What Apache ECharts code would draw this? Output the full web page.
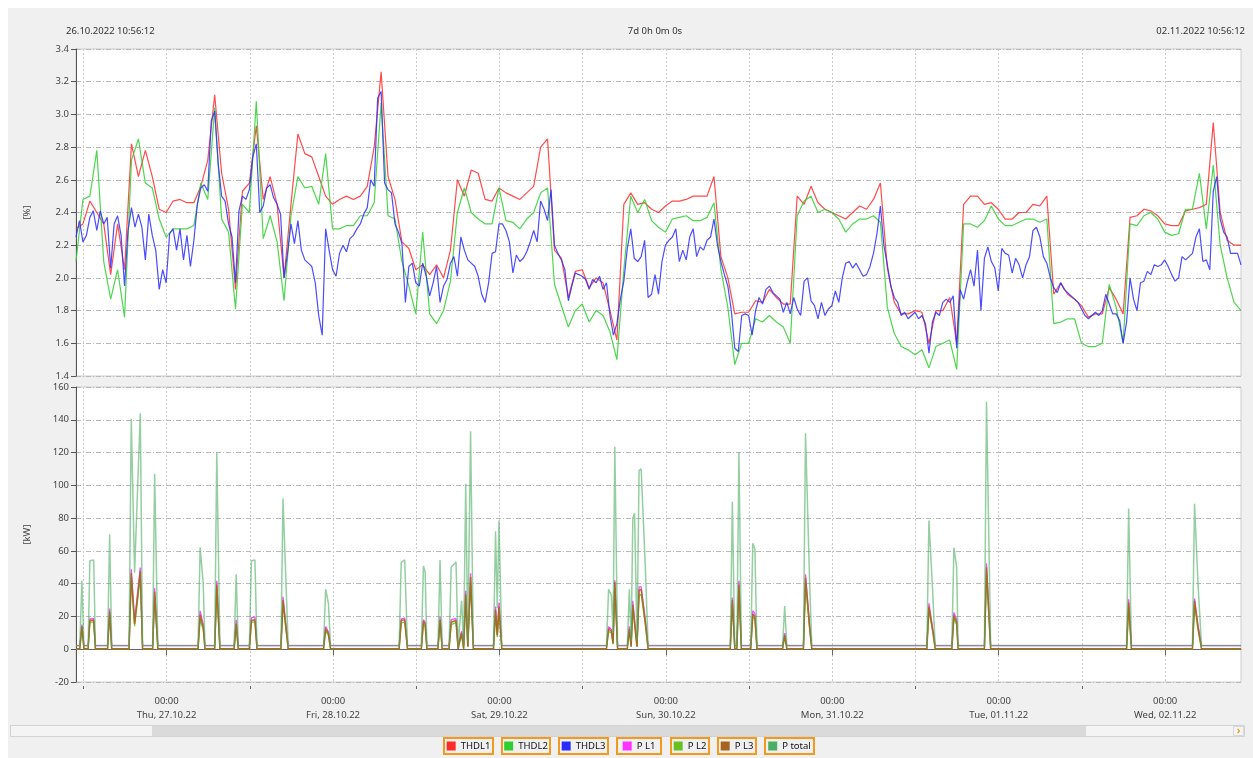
<!DOCTYPE html>
<html><head><meta charset="utf-8">
<script src="https://cdn.jsdelivr.net/npm/echarts@6/dist/echarts.min.js"></script>
<style>html,body{margin:0;padding:0;background:#fff;}#c{width:1253px;height:758px;}</style>
</head><body><div id="c"></div>
<script>
// ---------- texts ----------
const startLabel = '26.10.2022 10:56:12';
const spanLabel = '7d 0h 0m 0s';
const endLabel = '02.11.2022 10:56:12';
const dayLabels = ['Thu, 27.10.22','Fri, 28.10.22','Sat, 29.10.22','Sun, 30.10.22','Mon, 31.10.22','Tue, 01.11.22','Wed, 02.11.22'];
const legendNames = ['THDL1','THDL2','THDL3','P L1','P L2','P L3','P total'];

// ---------- THD series [%] ----------
// THDL1 / THDL2: hourly samples from 26.10.2022 10:56:12 (hour 0..168)
const thdl1 = [2.30,2.33,2.47,2.40,2.33,2.02,2.33,2.05,2.82,2.62,2.78,2.62,2.42,2.40,2.47,2.48,2.46,2.46,2.56,2.72,
3.12,2.64,2.42,1.93,2.53,2.58,2.93,2.48,2.62,2.45,2.00,2.45,2.88,2.76,2.74,2.62,2.50,2.45,2.48,2.50,
2.48,2.50,2.56,2.80,3.26,2.62,2.48,2.22,2.18,2.05,2.08,2.02,2.08,2.00,2.17,2.60,2.50,2.66,2.64,2.48,
2.47,2.55,2.52,2.50,2.48,2.52,2.56,2.80,2.85,2.17,2.12,1.88,2.04,2.05,1.94,2.00,1.97,1.80,1.62,2.45,
2.52,2.45,2.46,2.42,2.40,2.44,2.47,2.47,2.48,2.50,2.50,2.50,2.62,2.13,2.00,1.78,1.79,1.79,1.86,1.85,
1.93,1.88,1.84,1.84,2.50,2.45,2.56,2.46,2.42,2.40,2.38,2.36,2.40,2.44,2.42,2.48,2.58,2.06,1.85,1.78,
1.78,1.80,1.79,1.60,1.80,1.80,1.88,1.60,2.45,2.50,2.50,2.45,2.46,2.42,2.36,2.36,2.40,2.40,2.45,2.44,
2.50,1.90,1.97,1.90,1.87,1.83,1.76,1.78,1.78,1.94,1.87,1.78,2.37,2.38,2.42,2.41,2.38,2.33,2.32,2.32,
2.41,2.42,2.43,2.45,2.95,2.40,2.23,2.20,2.20];
const thdl2 = [2.10,2.48,2.50,2.78,2.10,1.87,2.05,1.76,2.72,2.85,2.58,2.55,2.36,2.25,2.30,2.30,2.30,2.32,2.58,2.48,
3.04,2.36,2.28,1.81,2.45,2.40,3.08,2.24,2.38,2.22,1.86,2.38,2.62,2.55,2.56,2.45,2.76,2.30,2.30,2.32,
2.32,2.38,2.38,2.46,3.07,2.38,2.36,2.10,1.95,1.78,2.28,1.78,1.72,1.80,1.98,2.40,2.55,2.40,2.36,2.33,
2.33,2.55,2.35,2.34,2.30,2.36,2.40,2.52,2.55,1.96,1.83,1.70,1.80,1.84,1.73,1.80,1.77,1.67,1.50,2.05,
2.50,2.40,2.48,2.35,2.31,2.28,2.36,2.37,2.38,2.35,2.35,2.37,2.46,2.05,1.82,1.47,1.60,1.60,1.75,1.73,
1.77,1.73,1.70,1.60,2.38,2.47,2.50,2.40,2.42,2.40,2.36,2.28,2.33,2.36,2.36,2.38,2.34,1.82,1.66,1.58,
1.56,1.53,1.56,1.45,1.58,1.60,1.62,1.44,2.33,2.33,2.31,2.35,2.44,2.36,2.32,2.32,2.34,2.36,2.36,2.34,
2.36,1.72,1.73,1.75,1.75,1.60,1.58,1.58,1.60,1.96,1.82,1.60,2.33,2.32,2.38,2.40,2.36,2.28,2.26,2.27,
2.42,2.42,2.64,2.30,2.69,2.20,2.00,1.85,1.80];
// THDL3: half-hourly samples from 26.10.2022 10:56:12 (half-hour 0..336)
const thdl3 = [2.25,2.35,2.22,2.26,2.37,2.41,2.29,2.41,2.33,2.37,2.06,2.33,2.38,2.26,1.95,2.29,2.43,2.31,2.39,2.31,
2.11,2.39,2.26,2.17,1.93,2.05,1.97,2.27,2.30,2.17,2.30,2.11,2.26,2.07,2.23,2.45,2.55,2.57,2.53,2.96,
3.02,2.70,2.50,2.47,2.33,2.25,1.97,2.41,2.50,2.48,2.54,2.74,2.82,2.40,2.44,2.55,2.57,2.49,2.45,2.39,
2.00,2.15,2.33,2.21,2.35,2.17,2.11,2.09,2.07,1.97,1.77,1.65,2.30,2.17,2.05,2.01,2.15,2.20,2.16,2.24,
2.26,2.30,2.33,2.39,2.43,2.60,2.56,3.10,3.14,2.58,2.54,2.52,2.33,2.28,2.21,1.85,2.07,2.09,1.97,1.95,
2.09,2.01,1.89,1.97,2.07,1.85,1.95,1.99,2.09,2.13,2.01,2.25,2.17,2.11,2.09,2.07,2.01,1.90,1.85,1.97,
2.15,2.16,2.33,2.33,2.29,2.22,2.03,2.14,2.10,2.12,2.16,2.22,2.29,2.22,2.47,2.42,2.35,2.54,2.20,2.15,
2.11,2.05,1.86,1.95,2.03,2.02,2.01,1.99,1.93,1.99,1.97,2.01,1.93,1.97,1.77,1.65,1.72,1.87,1.98,2.18,
2.30,2.12,2.10,2.13,2.23,1.88,1.90,2.02,1.90,2.10,2.20,2.23,2.25,2.30,2.10,2.17,2.11,2.25,2.30,2.13,
2.19,2.17,2.23,2.25,2.36,2.20,2.10,2.02,1.95,1.80,1.57,1.55,1.77,1.78,1.77,1.65,1.80,1.88,1.84,1.93,
1.95,1.91,1.89,1.87,1.79,1.85,1.78,1.88,1.81,1.77,1.98,2.00,1.86,1.83,1.75,1.85,1.77,1.81,1.83,1.92,
1.85,2.00,2.09,2.10,2.06,2.09,2.05,2.01,2.02,2.07,2.15,2.27,2.44,2.20,2.08,1.95,1.88,1.85,1.77,1.79,
1.75,1.77,1.79,1.75,1.77,1.72,1.54,1.73,1.79,1.77,1.85,1.87,1.85,1.89,1.57,1.93,1.87,1.97,2.05,1.95,
2.17,1.80,2.12,2.19,2.10,2.06,1.92,2.18,2.15,2.14,2.03,2.12,2.08,2.00,2.08,2.13,2.29,2.31,2.25,2.13,
2.09,2.00,1.94,1.91,1.97,1.93,1.91,1.89,1.87,1.85,1.81,1.77,1.75,1.77,1.79,1.77,1.80,1.90,1.84,1.78,
1.78,1.74,1.60,1.73,2.00,1.87,1.80,1.97,1.98,2.04,2.02,2.08,2.07,2.08,2.11,2.07,2.02,1.98,2.00,2.13,
2.11,2.13,2.15,2.25,2.30,2.10,2.11,2.05,2.53,2.62,2.36,2.28,2.25,2.15,2.15,2.15,2.08];

// ---------- power series: sample times (hours from start) and values [kW] ----------
const pTimes = [0,0.55, 0.85,1.15, 1.75,2.0,2.55,2.8, 4.55,4.85,5.15, 7.65,7.97,8.45,9.27,9.6, 11.05,11.34,11.8,
17.6,17.9,18.35,18.6, 20.0,20.3,20.75, 22.8,23.1,23.4, 25.0,25.3,25.8,26.1, 29.55,29.85,30.6, 35.7,36.0,36.4,36.7,
46.6,46.9,47.4,47.8, 49.8,50.1,50.35,50.6, 52.2,52.5,52.8, 53.8,54.1,54.8,55.1, 55.6,55.9, 56.2,56.5,56.9,57.3,
60.2,60.5,60.75,61.0,61.4, 76.5,76.8,77.2,77.45,77.7,78.1, 79.5,79.8,80.05,80.3,80.55,80.9,81.2,81.5,82.1,82.5,
94.35,94.65,95.0, 95.3,95.6,95.95, 97.3,97.6,97.9,98.2, 101.9,102.2,102.5, 104.9,105.2,105.8,106.1,
122.7,123.0,123.6,123.9, 126.3,126.6,127.0,127.2, 131.0,131.3,131.9, 151.5,151.8,152.2, 161.0,161.3,161.8,162.3, 168];
const pTotal = [2.2,2.2, 41.7,2.2, 2.2,54,54.5,2.2, 2.2,70,2.2, 2.2,140.6,46.7,144,2.2, 2.2,107,2.2,
2.2,62,40,2.2, 2.2,120,2.2, 2.2,45.7,2.2, 2.2,54,54.5,2.2, 2.2,92,2.2, 2.2,36.6,28,2.2,
2.2,53,54.5,2.2, 2.2,50.8,47,2.2, 2.2,54.5,2.2, 2.2,50,53.2,2.2, 29.5,2.2, 101,5,133,2.2,
2.2,72,25,78.6,2.2, 2.2,36.6,33,10,123.6,2.2, 2.2,36.6,5,80,83,5,109,110,50,2.2,
2.2,90,2.2, 2.2,120,2.2, 2.2,64.6,61,2.2, 2.2,26.4,2.2, 2.2,131.7,40,2.2,
2.2,78.6,30,2.2, 2.2,62,50,2.2, 2.2,151,2.2, 2.2,85.8,2.2, 2.2,88.8,40,2.2, 2.2];
const pL1 = [2.2,2.2, 15,2.2, 2.2,18.5,18.7,2.2, 2.2,24.8,2.2, 2.2,48.8,17,49.8,2.2, 2.2,37.2,2.2,
2.2,23.4,15,2.2, 2.2,41.7,2.2, 2.2,17.9,2.2, 2.2,19.2,19.7,2.2, 2.2,32,2.2, 2.2,13.8,10.5,2.2,
2.2,18.5,19,2.2, 2.2,18,16.5,2.2, 2.2,19.7,2.2, 2.2,18,18.7,2.2, 11,2.2, 35.6,2,46.3,2.2,
2.2,26,9,28.5,2.2, 2.2,13.8,12,4,42,2.2, 2.2,14,2,29.5,29.5,2,38,38,18,2.2,
2.2,31.5,2.2, 2.2,41.7,2.2, 2.2,23.4,22,2.2, 2.2,9.8,2.2, 2.2,45.7,14.5,2.2,
2.2,28,11,2.2, 2.2,22.4,18,2.2, 2.2,52.4,2.2, 2.2,30.5,2.2, 2.2,30.9,14.5,2.2, 2.2];
const pL2 = [0.2,0.2, 13,0.2, 0.2,16.5,16.7,0.2, 0.2,21,0.2, 0.2,43,14,44,0.2, 0.2,32,0.2,
0.2,18,12,0.2, 0.2,36,0.2, 0.2,13.5,0.2, 0.2,16.5,16.7,0.2, 0.2,28,0.2, 0.2,11,8.5,0.2,
0.2,16,16.7,0.2, 0.2,15.5,14,0.2, 0.2,16.7,0.2, 0.2,15,16.2,0.2, 9,0.2, 31,1.5,40.5,0.2,
0.2,22,7.5,24,0.2, 0.2,11,10,3,37.5,0.2, 0.2,11,1.5,24.5,25,1.5,33,33.5,15,0.2,
0.2,27.5,0.2, 0.2,36.5,0.2, 0.2,19.5,18.5,0.2, 0.2,8,0.2, 0.2,40,12,0.2,
0.2,24,9,0.2, 0.2,18.5,15,0.2, 0.2,46,0.2, 0.2,26,0.2, 0.2,27,12,0.2, 0.2];
const pL3 = [0.3,0.3, 14,0.3, 0.3,17.5,17.8,0.3, 0.3,23,0.3, 0.3,46.5,15.5,47.5,0.3, 0.3,35,0.3,
0.3,21,13.5,0.3, 0.3,39.5,0.3, 0.3,15.5,0.3, 0.3,17.5,18,0.3, 0.3,30,0.3, 0.3,12.5,9.5,0.3,
0.3,17.5,18,0.3, 0.3,17,15.5,0.3, 0.3,18,0.3, 0.3,16.5,17.5,0.3, 10,0.3, 33.5,1.5,44,0.3,
0.3,24,8.5,26,0.3, 0.3,12.5,11,3.5,41,0.3, 0.3,12.5,1.5,27,27.5,1.5,36,36.5,16.5,0.3,
0.3,30,0.3, 0.3,39.5,0.3, 0.3,21.5,20,0.3, 0.3,8.6,0.3, 0.3,43.5,13,0.3,
0.3,26,10,0.3, 0.3,20.5,16.5,0.3, 0.3,50,0.3, 0.3,28.5,0.3, 0.3,29.5,13.5,0.3, 0.3];

// ---------- build ----------
const FONT = '"Noto Sans", "Open Sans", sans-serif';
const FS = 9.5;
const startMs = Date.UTC(2022, 9, 26, 10, 56, 12);
const midnights = dayLabels.map((_, i) => (Date.UTC(2022, 9, 27 + i) - startMs) / 3600000);
const noons = midnights.map(m => m - 12);
const allTicks = noons.concat(midnights).sort((a, b) => a - b);
const hourly = arr => arr.map((v, i) => [i, v]);
const halfHourly = arr => arr.map((v, i) => [i / 2, v]);
const timed = arr => arr.map((v, i) => [pTimes[i], v]);

const colors = {
  'THDL1': '#ff2b2b', 'THDL2': '#2fcf2f', 'THDL3': '#2b2bff',
  'P L1': '#ff33ff', 'P L2': '#66c022', 'P L3': '#a8641e', 'P total': '#4cae62'
};
// legend box layout (outer left edge, outer width)
const legendLeft = [443, 501, 558, 616, 670, 717, 764];
const legendWidth = [51, 50, 51, 46, 40, 40, 51];
const measureCtx = document.createElement('canvas').getContext('2d');
measureCtx.font = FS + 'px ' + FONT;

const vSplit = { show: true, lineStyle: { color: '#c9c9c9', type: [2, 2], width: 1 } };
const hSplit = { show: true, lineStyle: { color: '#b9b9b9', type: [5, 2, 1, 2], width: 1 } };

function dayFormatter(v) {
  for (let i = 0; i < midnights.length; i++) {
    if (Math.abs(midnights[i] - v) < 0.01) return '00:00\n' + dayLabels[i];
  }
  return '';
}

function lineSeries(name, data, xi, yi, width, opacity) {
  return {
    name, type: 'line', data, xAxisIndex: xi, yAxisIndex: yi,
    symbol: 'none', showSymbol: false, animation: false,
    itemStyle: { color: colors[name] },
    lineStyle: { color: colors[name], width, opacity }
  };
}

const yLabel = { color: '#444', fontSize: FS, fontFamily: FONT, margin: 4 };

function legendItem(n, i) {
  const tw = measureCtx.measureText(n).width;
  const inner = legendWidth[i] - 2;            // without the outer half of the 2px border
  const side = Math.max(2, (inner - 9 - 5 - tw) / 2);
  return {
    data: [n], left: legendLeft[i] + 1, top: 738, orient: 'horizontal',
    icon: 'rect', itemWidth: 9, itemHeight: 9, itemGap: 0,
    padding: [3, side, 3, side], borderColor: '#f39a1e', borderWidth: 2, borderRadius: 0,
    backgroundColor: '#f0f0f0', selectedMode: false,
    textStyle: { color: '#111', fontSize: FS, fontFamily: FONT }
  };
}

const option = {
  backgroundColor: '#f0f0f0',
  animation: false,
  textStyle: { fontFamily: FONT },
  grid: [
    { left: 76, right: 12, top: 49, height: 327, show: true, backgroundColor: '#fff', borderColor: '#cdcdcd', borderWidth: 1 },
    { left: 76, right: 12, top: 387, height: 295, show: true, backgroundColor: '#fff', borderColor: '#cdcdcd', borderWidth: 1 }
  ],
  xAxis: [
    { gridIndex: 0, type: 'value', min: 0, max: 168,
      axisLine: { show: false }, axisTick: { show: false, customValues: allTicks },
      axisLabel: { show: false, customValues: allTicks }, splitLine: vSplit },
    { gridIndex: 1, type: 'value', min: 0, max: 168, position: 'bottom', offset: 4,
      axisLine: { show: true, lineStyle: { color: '#666' } },
      axisTick: { show: true, customValues: midnights, length: 6, lineStyle: { color: '#666' } },
      axisLabel: { show: true, customValues: midnights, formatter: dayFormatter, color: '#444',
                   fontSize: FS, lineHeight: 14, margin: 8, fontFamily: FONT },
      splitLine: vSplit },
    { gridIndex: 1, type: 'value', min: 0, max: 168, position: 'bottom', offset: 4,
      axisLine: { show: false },
      axisTick: { show: true, customValues: noons, length: 3, lineStyle: { color: '#666' } },
      axisLabel: { show: false, customValues: noons }, splitLine: vSplit }
  ],
  yAxis: [
    { gridIndex: 0, type: 'value', min: 1.4, max: 3.4, interval: 0.2, offset: 3,
      name: '[%]', nameLocation: 'middle', nameGap: 41, nameRotate: 90,
      nameTextStyle: { color: '#444', fontSize: FS, fontFamily: FONT },
      axisLine: { show: true, lineStyle: { color: '#555' } },
      axisTick: { show: true, length: 5, lineStyle: { color: '#555' } },
      axisLabel: Object.assign({ formatter: v => v.toFixed(1) }, yLabel),
      splitLine: hSplit },
    { gridIndex: 1, type: 'value', min: -20, max: 160, interval: 20, offset: 3,
      name: '[kW]', nameLocation: 'middle', nameGap: 41, nameRotate: 90,
      nameTextStyle: { color: '#444', fontSize: FS, fontFamily: FONT },
      axisLine: { show: true, lineStyle: { color: '#555' } },
      axisTick: { show: true, length: 5, lineStyle: { color: '#555' } },
      axisLabel: yLabel,
      splitLine: hSplit }
  ],
  legend: legendNames.map(legendItem),
  graphic: [
    { type: 'rect', left: 0, top: 0, shape: { width: 1253, height: 8 }, style: { fill: '#fff' }, z: -5 },
    { type: 'rect', left: 0, top: 0, shape: { width: 8, height: 758 }, style: { fill: '#fff' }, z: -5 },
    { type: 'text', x: 66, y: 31, style: { text: startLabel, font: FS + 'px ' + FONT, fill: '#333', verticalAlign: 'middle' } },
    { type: 'text', x: 655, y: 31, style: { text: spanLabel, font: FS + 'px ' + FONT, fill: '#333', align: 'center', verticalAlign: 'middle' } },
    { type: 'text', x: 1245, y: 31, style: { text: endLabel, font: FS + 'px ' + FONT, fill: '#333', align: 'right', verticalAlign: 'middle' } },
    { type: 'rect', shape: { x: 10.5, y: 725.5, width: 1234, height: 11 }, style: { fill: '#f4f4f4', stroke: '#d2d2d2' } },
    { type: 'rect', shape: { x: 152, y: 726, width: 934, height: 10 }, style: { fill: '#dadada' } },
    { type: 'rect', shape: { x: 1233.5, y: 726.5, width: 10, height: 9 }, style: { fill: '#f4f4f4', stroke: '#d8d8d8' } },
    { type: 'text', x: 1238.5, y: 731, style: { text: '›', font: 'bold 10px ' + FONT, fill: '#f39a1e', align: 'center', verticalAlign: 'middle' } }
  ],
  series: [
    lineSeries('THDL1', hourly(thdl1), 0, 0, 1.2, 0.85),
    lineSeries('THDL2', hourly(thdl2), 0, 0, 1.2, 0.85),
    lineSeries('THDL3', halfHourly(thdl3), 0, 0, 1.2, 0.85),
    lineSeries('P L1', timed(pL1), 1, 1, 1.3, 0.9),
    lineSeries('P L2', timed(pL2), 1, 1, 1.3, 0.9),
    lineSeries('P L3', timed(pL3), 1, 1, 1.5, 0.9),
    lineSeries('P total', timed(pTotal), 1, 1, 1.5, 0.6)
  ]
};

const chart = echarts.init(document.getElementById('c'), null, { renderer: 'canvas' });
chart.setOption(option);
</script>
</body></html>
